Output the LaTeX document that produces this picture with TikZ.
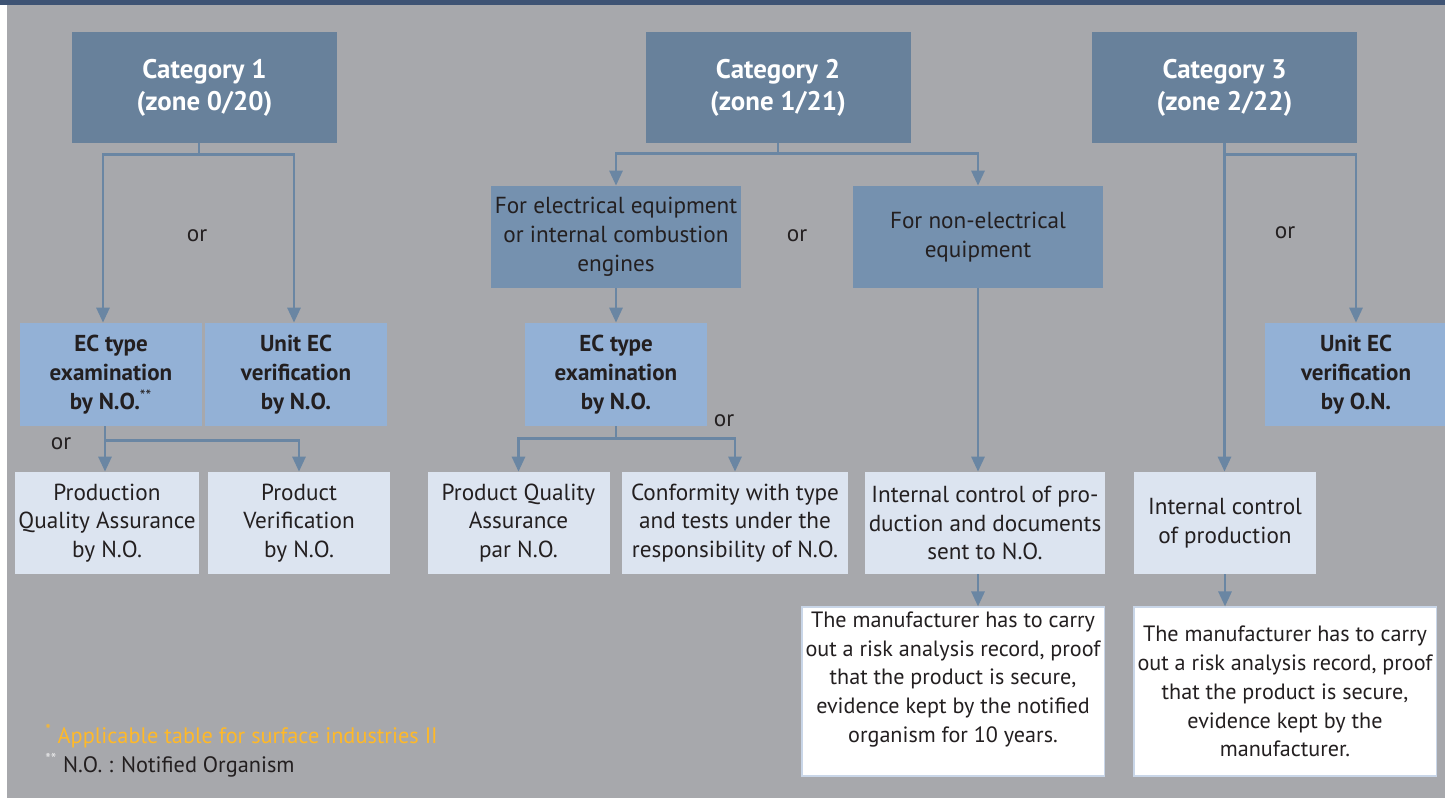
\documentclass[tikz,border=0pt]{standalone}
\usepackage{fontspec}
\setmainfont{PT Sans}
\usetikzlibrary{arrows.meta,positioning,calc}
\definecolor{bg}{HTML}{A7A8AC}
\definecolor{topbar}{HTML}{3E5374}
\definecolor{catfill}{HTML}{68819B}
\definecolor{kindfill}{HTML}{7591AF}
\definecolor{examfill}{HTML}{93B1D6}
\definecolor{prodfill}{HTML}{DCE4F0}
\definecolor{wire}{HTML}{6A86A3}
\definecolor{ink}{HTML}{231F20}
\definecolor{noteink}{HTML}{FFB928}
\definecolor{edge}{HTML}{C9D6E8}
\tikzset{box/.style={align=center,inner sep=2pt,text=ink,font=\fontsize{13.2}{16.4}\selectfont},catbox/.style={box,fill=catfill,text=white,minimum width=5.3cm,minimum height=2.22cm,font=\bfseries\fontsize{15.3}{18.2}\selectfont},kindbox/.style={box,fill=kindfill,minimum width=5cm,minimum height=2.04cm},exambox/.style={box,fill=examfill,minimum width=3.64cm,minimum height=2.06cm,font=\bfseries\fontsize{13.1}{16.4}\selectfont},prodbox/.style={box,fill=prodfill,minimum width=3.64cm,minimum height=2.04cm},recbox/.style={box,fill=white,draw=edge,line width=.6pt,minimum width=6cm,minimum height=3.38cm,font=\fontsize{12.6}{16.4}\selectfont},orlab/.style={text=ink,font=\fontsize{13.2}{16.4}\selectfont},fnote/.style={anchor=west,inner sep=0pt,font=\fontsize{12.7}{16.4}\selectfont},arrow/.style={draw=wire,line width=1.6pt,-{Triangle[length=3mm,width=2.6mm]}}}

\begin{document}
\begin{tikzpicture}
\useasboundingbox (0,0) rectangle (28.9,-15.96);
\fill[bg] (0,0) rectangle (28.9,-15.96);
\fill[white] (0,0) rectangle (.14,-15.96);
\fill[topbar] (0,0) rectangle (28.9,-.1);
% categories
\node[catbox] (c1) at (4.09,-1.75) {Category 1\\(zone 0/20)};
\node[catbox] (c2) at (15.56,-1.75) {Category 2\\(zone 1/21)};
\node[catbox] (c3) at (24.49,-1.75) {Category 3\\(zone 2/22)};
\node[kindbox] (elec) at (12.32,-4.74) {For electrical equipment\\or internal combustion\\engines};
\node[kindbox] (nonelec) at (19.56,-4.74) {For non-electrical\\equipment};
% examinations
\node[exambox] (ec1) at (2.22,-7.49) {EC type\\examination\\by N.O.\textsuperscript{\mdseries**}};
\node[exambox] (unit1) at (5.92,-7.49) {Unit EC\\verification\\by N.O.};
\node[exambox] (ec2) at (12.32,-7.49) {EC type\\examination\\by N.O.};
\node[exambox] (unit3) at (27.12,-7.49) {Unit EC\\verification\\by O.N.};
% production
\node[prodbox] (pqa1) at (2.14,-10.46) {Production\\Quality Assurance\\by N.O.};
\node[prodbox] (pv1) at (5.98,-10.46) {Product\\Verification\\by N.O.};
\node[prodbox] (pqa2) at (10.37,-10.46) {Product Quality\\Assurance\\par N.O.};
\node[prodbox,minimum width=4.52cm] (conf) at (14.70,-10.46) {Conformity with type\\and tests under the\\responsibility of N.O.};
\node[prodbox,minimum width=4.76cm] (icp1) at (19.70,-10.46) {Internal control of pro-\\duction and documents\\sent to N.O.};
\node[prodbox] (icp3) at (24.50,-10.46) {Internal control\\of production};
\node[recbox] (rec1) at (19.06,-13.83) {The manufacturer has to carry\\out a risk analysis record, proof\\that the product is secure,\\evidence kept by the notified\\organism for 10 years.\\\mbox{}};
\node[recbox] (rec2) at (25.70,-13.83) {The manufacturer has to carry\\out a risk analysis record, proof\\that the product is secure,\\evidence kept by the\\manufacturer.};
% or labels
\node[orlab] (or1) at (3.94,-4.72) {or};
\node[orlab] (or2) at (1.22,-8.88) {or};
\node[orlab] (or3) at (15.94,-4.72) {or};
\node[orlab] (or4) at (14.48,-8.42) {or};
\node[orlab] (or5) at (25.70,-4.66) {or};
% notes
\node[fnote,text=noteink] (n1) at (.9,-14.72) {\textsuperscript{*} Applicable table for surface industries II};
\node[fnote,text=ink] (n2) at (.9,-15.30) {\textsuperscript{\color{white!75!bg}**} N.O. : Notified Organism};
% links
\draw[arrow] ([xshift=-.11cm]c1.south) -- ++(0,-.22) -| ([xshift=-.16cm]ec1.north);
\draw[arrow] ([xshift=-.11cm]c1.south) -- ++(0,-.22) -| ([xshift=-.04cm]unit1.north);
\draw[arrow] (c2.south) -- ++(0,-.2) -| (elec.north);
\draw[arrow] (c2.south) -- ++(0,-.2) -| (nonelec.north);
\draw[arrow] (c3.south) -- (c3.south |- icp3.north);
\draw[arrow] (c3.south) -- ++(0,-.22) -| (unit3.north);
\draw[arrow] (elec) -- (ec2);
\draw[arrow] ([xshift=-.12cm]ec1.south) -- ++(0,-.28) -| ([xshift=-.04cm]pqa1.north);
\draw[arrow] ([xshift=-.12cm]ec1.south) -- ++(0,-.28) -| (pv1.north);
\draw[arrow] (ec2.south) -- ++(0,-.24) -| (pqa2.north);
\draw[arrow] (ec2.south) -- ++(0,-.24) -| (conf.north);
\draw[arrow] (nonelec) -- (nonelec |- icp1.north);
\draw[arrow] (nonelec |- icp1.south) -- (nonelec |- rec1.north);
\draw[arrow] (icp3) -- (icp3 |- rec2.north);
\end{tikzpicture}
\end{document}
